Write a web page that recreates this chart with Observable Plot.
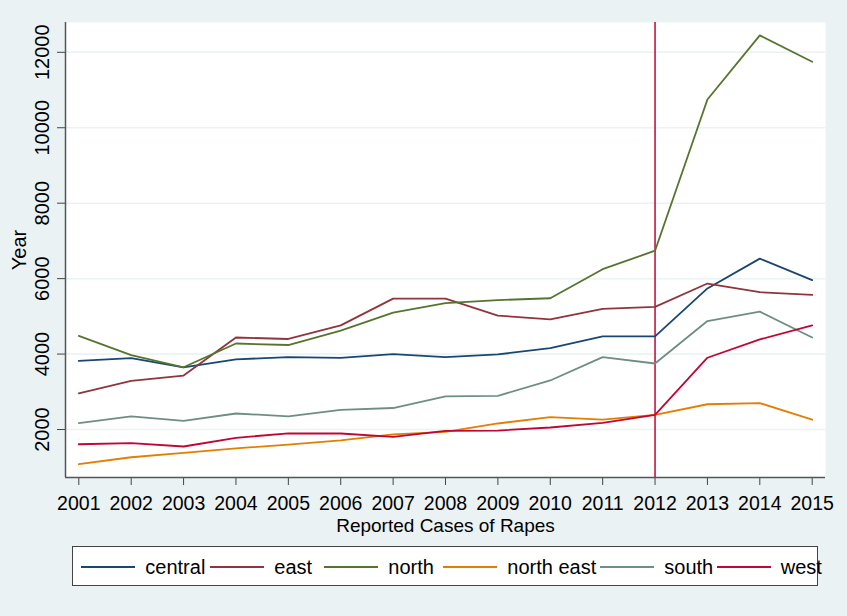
<!DOCTYPE html>
<html><head><meta charset="utf-8">
<script src="https://cdn.jsdelivr.net/npm/d3@7"></script>
<script src="https://cdn.jsdelivr.net/npm/@observablehq/plot@0.6"></script>
<style>
html,body{margin:0;padding:0;background:#eaf2f3;}
#wrap{position:relative;width:847px;height:616px;font-family:"Liberation Sans",Arial,sans-serif;}
#wrap svg{position:absolute;left:0;top:0;}
#legend{position:absolute;left:72px;top:546px;width:744px;height:38px;background:#fff;border:1px solid #444;}
.item{position:absolute;top:0;height:38px;}
.item .sw{position:absolute;top:19px;left:0;width:54px;height:2px;}
.item span{position:absolute;left:64px;top:9px;font-size:20px;color:#000;white-space:nowrap;line-height:22px;}
</style></head><body><div id="wrap"></div>
<script>
const years = [2001,2002,2003,2004,2005,2006,2007,2008,2009,2010,2011,2012,2013,2014,2015];
const regions = ["central","east","north","north east","south","west"];
const central   = [3820,3890,3650,3860,3920,3900,4000,3920,3990,4160,4470,4470,5740,6530,5960];
const east      = [2960,3290,3430,4440,4400,4760,5470,5470,5020,4920,5200,5250,5870,5640,5570];
const north     = [4480,3970,3650,4280,4240,4620,5100,5350,5430,5480,6250,6740,10750,12450,11750];
const northEast = [1080,1265,1380,1500,1600,1710,1870,1940,2160,2330,2260,2390,2670,2700,2260];
const south     = [2170,2350,2230,2425,2350,2520,2570,2876,2894,3300,3920,3750,4876,5124,4440];
const west      = [1610,1637,1550,1780,1900,1894,1805,1965,1973,2053,2177,2389,3903,4389,4761];
const colors = ["#1a476f","#90353b","#55752f","#e37e00","#6e8e84","#c10534"];
const yTicks = [2000,4000,6000,8000,10000,12000];
const markerYear = 2012;
const xLabel = "Reported Cases of Rapes";
const yLabel = "Year";

const series = [central, east, north, northEast, south, west];
const rows = [];
regions.forEach((r, i) => years.forEach((yr, j) => rows.push({region: r, year: yr, value: series[i][j]})));

const xDomain = [2000.746, 2015.254];
const yDomain = [728, 12790];
const font = "Liberation Sans, Arial, sans-serif";

const plot = Plot.plot({
  width: 847, height: 540,
  marginLeft: 65, marginRight: 22, marginTop: 22, marginBottom: 63,
  style: {background: "transparent", fontFamily: font, fontSize: "20px", color: "#000"},
  x: {domain: xDomain},
  y: {domain: yDomain},
  color: {domain: regions, range: colors},
  marks: [
    Plot.frame({fill: "white", stroke: "none"}),
    Plot.gridY(yTicks, {stroke: "#eaf2f3", strokeOpacity: 1, strokeWidth: 1.5}),
    Plot.ruleX([markerYear], {stroke: "#c10534", strokeWidth: 1.5}),
    Plot.line(rows, {x: "year", y: "value", z: "region", stroke: "region", strokeWidth: 1.8}),
    Plot.axisX({ticks: years, tickSize: 8, tickPadding: 11, tickFormat: d => String(d), label: null, fontSize: 19.5, stroke: "#444"}),
    Plot.axisY({ticks: yTicks, tickSize: 8, tickFormat: () => "", label: null, stroke: "#444"}),
    Plot.text(yTicks, {y: d => d, text: d => String(d), frameAnchor: "left", dx: -17, rotate: -90, textAnchor: "middle", lineAnchor: "bottom", fontSize: 20, fill: "#000"}),
    Plot.ruleX([xDomain[0]], {stroke: "#555", strokeWidth: 1.5}),
    Plot.ruleY([yDomain[0]], {stroke: "#555", strokeWidth: 1.5}),
    Plot.text([yLabel], {text: d => d, frameAnchor: "left", dx: -40, rotate: -90, textAnchor: "middle", lineAnchor: "bottom", fontSize: 20, fill: "#000"}),
    Plot.text([xLabel], {text: d => d, frameAnchor: "bottom", dy: 54, textAnchor: "middle", lineAnchor: "bottom", fontSize: 19, fill: "#000"})
  ]
});
const wrap = document.getElementById("wrap");
wrap.appendChild(plot);

// legend
const legendX = [8.3, 137.3, 251.3, 370.3, 527.3, 643.8];
const legend = document.createElement("div");
legend.id = "legend";
regions.forEach((r, i) => {
  const it = document.createElement("div");
  it.className = "item";
  it.style.left = legendX[i] + "px";
  const sw = document.createElement("div");
  sw.className = "sw";
  sw.style.background = colors[i];
  const sp = document.createElement("span");
  sp.textContent = r;
  it.appendChild(sw); it.appendChild(sp);
  legend.appendChild(it);
});
wrap.appendChild(legend);
</script>
</body></html>
